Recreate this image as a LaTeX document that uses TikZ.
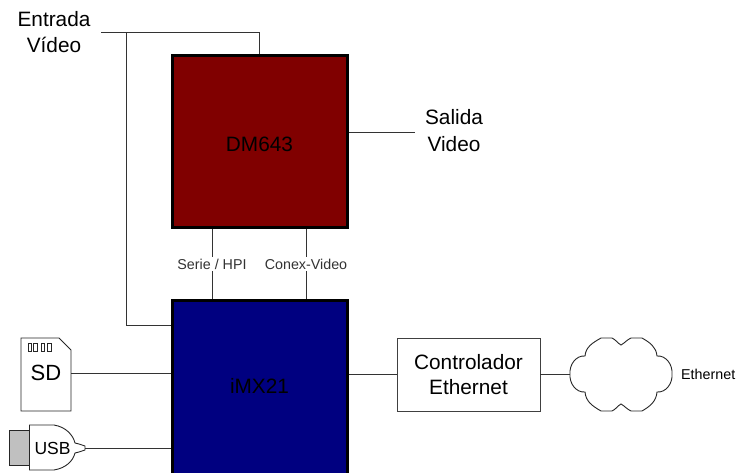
\documentclass[tikz,border=0pt]{standalone}
\usepackage{fontspec}
\setmainfont{Liberation Sans}
\usetikzlibrary{positioning}
\definecolor{mred}{HTML}{800000}
\definecolor{mnavy}{HTML}{000080}
\definecolor{mgray}{HTML}{C0C0C0}
\tikzstyle{chip} = [rectangle, draw = black, line width = 3pt, minimum width = 175pt, minimum height = 172pt]
\tikzstyle{ctrl} = [rectangle, draw = black!75, line width = 0.9pt, minimum width = 143pt, minimum height = 73pt, align = center, font = \fontsize{20.8}{25}\selectfont]
\tikzstyle{wire} = [black!80, line width = 0.9pt]
\tikzstyle{outline} = [black!85, line width = 0.9pt]
\tikzstyle{big} = [align = center, font = \fontsize{20.8}{26.5}\selectfont]
\tikzstyle{small} = [align = center, font = \fontsize{14.3}{16}\selectfont]
\begin{document}
\begin{tikzpicture}[x=1pt, y=-1pt]
\useasboundingbox (0,0) rectangle (737,472);
\node (dm) [chip, fill = mred] at (259.5,141.5) {};
\node (imx) [chip, fill = mnavy, minimum height = 174pt] at (259.5,387.5) {};
\node (dmtext) [font = \fontsize{20.8}{24}\selectfont] at (259.5,144) {DM643};
\node (imxtext) [font = \fontsize{20.8}{24}\selectfont] at (259.5,386) {iMX21};
\node (ctrl) [ctrl] at (468.5,374.5) {Controlador\\Ethernet};
\node (entrada) [big] at (54,32) {Entrada\\Vídeo};
\node (salida) [big] at (454,130.5) {Salida\\Video};
\node (ethernet) [small, anchor = west, inner sep = 0pt] at (681,374) {Ethernet};
% SD card
\draw [outline] (21,338) -- (59,338) -- (71,350) -- (71,411) -- (21,411) -- cycle;
\foreach \x in {28,33.5,41,47.5}
  \draw [outline, line width = 0.6pt] (\x,343) rectangle +(3.5,8);
\node (sd) [inner sep = 0pt, minimum width = 50pt, minimum height = 73pt, font = \fontsize{22}{24}\selectfont] at (46,373) {SD};
% USB plug
\draw [outline, fill = mgray] (9.5,430.5) rectangle (29.5,465);
\draw [outline, fill = white] (29.5,425) -- (54,425) .. controls (66,427) and (73,435) .. (75,443) -- (79,444) -- (85,446) -- (85,450) -- (79,452) -- (75,453) .. controls (73,461) and (66,468) .. (54,470) -- (29.5,470) -- cycle;
\node (usb) [inner sep = 0pt, font = \fontsize{17.5}{18}\selectfont] at (52.5,448) {USB};
\coordinate (usbtip) at (85,448);
% cloud
\draw [outline, fill = white] (570,374)
  to[out=95, in=175] (585,356) to[out=85, in=210] (601,338) -- (612,338)
  to[out=-25, in=150] (621,345) to[out=30, in=205] (631,338) -- (642,338)
  to[out=-30, in=95] (657,356) to[out=5, in=85] (672,374)
  to[out=-85, in=-5] (657,392) to[out=-95, in=30] (642,411) -- (631,411)
  to[out=155, in=-30] (621,404) to[out=-150, in=25] (612,411) -- (601,411)
  to[out=150, in=-85] (585,392) to[out=185, in=-95] (570,374) -- cycle;
\node (cloudnet) [minimum width = 102pt, minimum height = 73pt, inner sep = 0pt] at (621,374.5) {};
% connectors
\coordinate (ein) at (101,32);
\coordinate (ebr) at (126.5,32);
\draw [wire] (ein) -| (dm.north);
\draw [wire] (ebr) |- (imx.west |- 0,325);
\draw [wire] (dm.east |- 0,132) -- (415,132);
\draw [wire] (dm.south -| 212,0) -- node [small, fill = white, inner xsep = 1pt, inner ysep = 2pt] {Serie / HPI} (imx.north -| 212,0);
\draw [wire] (dm.south -| 306,0) -- node [small, fill = white, inner xsep = 1pt, inner ysep = 2pt] {Conex-Video} (imx.north -| 306,0);
\draw [wire] (sd.east) -- (imx.west |- sd.east);
\draw [wire] (usbtip) -- (imx.west |- usbtip);
\draw [wire] (imx.east |- ctrl.west) -- (ctrl.west);
\draw [wire] (ctrl.east) -- (cloudnet.west);
\end{tikzpicture}
\end{document}
